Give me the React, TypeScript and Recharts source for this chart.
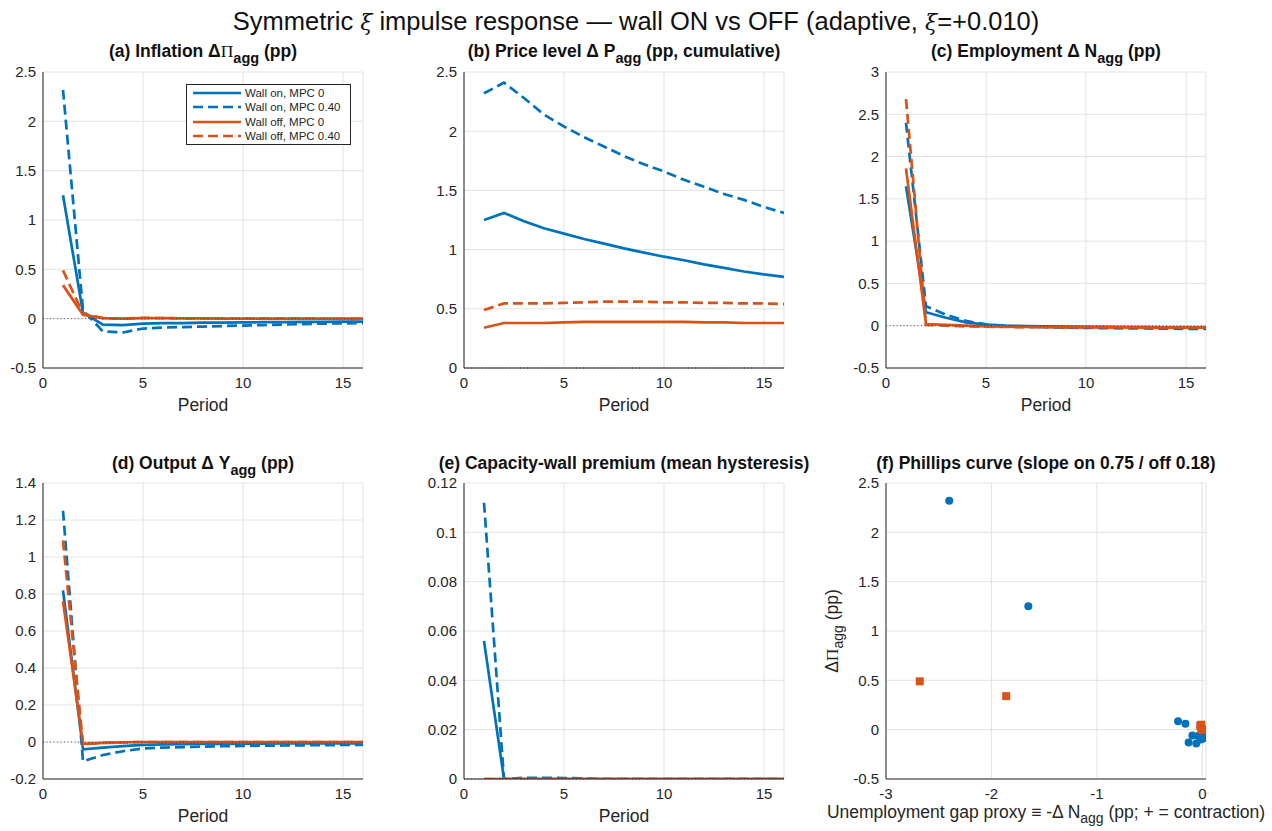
import React from 'react';
import {
    LineChart, Line, XAxis, YAxis, CartesianGrid, ReferenceLine, ScatterChart, Scatter
} from 'recharts';

const periods = [1, 2, 3, 4, 5, 6, 7, 8, 9, 10, 11, 12, 13, 14, 15, 16];

// (a) inflation, pp
const piOn0 = [1.25, 0.06, -0.06, -0.065, -0.05, -0.045, -0.045, -0.04, -0.04, -0.038, -0.036, -0.035, -0.033, -0.032, -0.03, -0.03];
const piOn40 = [2.32, 0.085, -0.13, -0.14, -0.1, -0.09, -0.085, -0.08, -0.075, -0.07, -0.065, -0.06, -0.055, -0.05, -0.048, -0.045];
const piOff0 = [0.34, 0.04, 0.005, 0.0, 0.005, 0.005, 0.003, 0.002, 0.001, 0, 0, 0, 0, 0, 0, 0];
const piOff40 = [0.49, 0.05, 0.005, 0.0, 0.008, 0.006, 0.004, 0.002, 0.001, 0, 0, 0, 0, -0.001, -0.001, -0.002];

// (b) price level, cumulative pp
const pOn0 = [1.25, 1.31, 1.24, 1.18, 1.135, 1.09, 1.05, 1.01, 0.975, 0.94, 0.91, 0.875, 0.845, 0.815, 0.79, 0.77];
const pOn40 = [2.32, 2.41, 2.28, 2.14, 2.04, 1.95, 1.87, 1.79, 1.72, 1.66, 1.59, 1.53, 1.47, 1.42, 1.36, 1.31];
const pOff0 = [0.34, 0.38, 0.38, 0.38, 0.385, 0.39, 0.39, 0.39, 0.39, 0.39, 0.39, 0.385, 0.385, 0.38, 0.38, 0.38];
const pOff40 = [0.49, 0.545, 0.545, 0.545, 0.55, 0.555, 0.56, 0.56, 0.56, 0.555, 0.555, 0.55, 0.55, 0.545, 0.545, 0.54];

// (c) employment, pp
const nOn0 = [1.65, 0.16, 0.094, 0.04, 0.012, 0.0, -0.005, -0.008, -0.01, -0.012, -0.014, -0.015, -0.016, -0.018, -0.019, -0.02];
const nOn40 = [2.4, 0.23, 0.13, 0.057, 0.015, -0.005, -0.012, -0.018, -0.022, -0.026, -0.029, -0.031, -0.033, -0.035, -0.037, -0.038];
const nOff0 = [1.86, 0.02, 0.01, 0.0, -0.008, -0.012, -0.014, -0.015, -0.016, -0.017, -0.018, -0.018, -0.019, -0.019, -0.02, -0.02];
const nOff40 = [2.68, 0.01, 0.0, -0.008, -0.012, -0.015, -0.017, -0.018, -0.019, -0.02, -0.02, -0.021, -0.021, -0.022, -0.022, -0.022];

// (d) output, pp
const yOn0 = [0.82, -0.04, -0.03, -0.022, -0.016, -0.013, -0.011, -0.01, -0.01, -0.009, -0.009, -0.008, -0.008, -0.008, -0.007, -0.007];
const yOn40 = [1.25, -0.105, -0.07, -0.05, -0.035, -0.03, -0.028, -0.025, -0.023, -0.021, -0.02, -0.019, -0.018, -0.017, -0.016, -0.015];
const yOff0 = [0.76, -0.01, -0.005, -0.002, 0, 0, 0, 0, 0, 0, 0, 0, 0, 0, 0, 0];
const yOff40 = [1.09, -0.012, -0.005, -0.002, 0, 0, 0, 0, 0, 0, 0, 0, 0, 0, 0, 0];

// (e) capacity-wall premium
const wOn0 = [0.056, 0, 0, 0, 0, 0, 0, 0, 0, 0, 0, 0, 0, 0, 0, 0];
const wOn40 = [0.112, 0, 0.0005, 0.0005, 0.0004, 0.0002, 0, 0, 0, 0, 0, 0, 0, 0, 0, 0];
const wOff0 = [0, 0, 0, 0, 0, 0, 0, 0, 0, 0, 0, 0, 0, 0, 0, 0];
const wOff40 = [0, 0, 0, 0, 0, 0, 0, 0, 0, 0, 0, 0, 0, 0, 0, 0];

const periodTicks = [0, 5, 10, 15];
const ticksA = [-0.5, 0, 0.5, 1, 1.5, 2, 2.5];
const ticksB = [0, 0.5, 1, 1.5, 2, 2.5];
const ticksC = [-0.5, 0, 0.5, 1, 1.5, 2, 2.5, 3];
const ticksD = [-0.2, 0, 0.2, 0.4, 0.6, 0.8, 1, 1.2, 1.4];
const ticksE = [0, 0.02, 0.04, 0.06, 0.08, 0.1, 0.12];
const gapTicks = [-3, -2, -1, 0];

const seriesNames = ['Wall on, MPC 0', 'Wall on, MPC 0.40', 'Wall off, MPC 0', 'Wall off, MPC 0.40'];

const BLUE = '#0072BD';
const ORANGE = '#D95319';
const INK = '#262626';
const GRID = '#e2e2e2';
const FONT = '"Liberation Sans", Arial, Helvetica, sans-serif';
const PW = 320;
const PH = 296;
const DASH = '10 5';
const LW = 2.7;

const rows = (a: number[], b: number[], c: number[], d: number[]) =>
    periods.map((p, i) => ({ period: p, on0: a[i], on40: b[i], off0: c[i], off40: d[i] }));

const onPts = [...periods.map((_, i) => ({ x: -nOn0[i], y: piOn0[i] })), ...periods.map((_, i) => ({ x: -nOn40[i], y: piOn40[i] }))];
const offPts = [...periods.map((_, i) => ({ x: -nOff0[i], y: piOff0[i] })), ...periods.map((_, i) => ({ x: -nOff40[i], y: piOff40[i] }))];

const Sub = ({ children, size = 14.5, drop = 6 }: any) => (
    <span style={{ fontSize: size, position: 'relative', top: drop }}>{children}</span>
);

const tickStyle = { fill: INK, fontSize: 15, fontFamily: FONT };

const Title = ({ left, top, children }: any) => (
    <div style={{
        position: 'absolute', left: left - 80, width: PW + 160, top, textAlign: 'center',
        fontFamily: FONT, fontWeight: 'bold', fontSize: 17.5, lineHeight: '18px', color: '#111', whiteSpace: 'nowrap'
    }}>{children}</div>
);

const AxisLabel = ({ left, top, children }: any) => (
    <div style={{
        position: 'absolute', left: left - 100, width: PW + 200, top, textAlign: 'center',
        fontFamily: FONT, fontSize: 17.5, lineHeight: '20px', color: INK, whiteSpace: 'nowrap'
    }}>{children}</div>
);

interface PanelProps {
    left: number;
    top: number;
    data: any[];
    domain: [number, number];
    ticks: number[];
}

const Panel: React.FC<PanelProps> = ({ left, top, data, domain, ticks }) => (
    <div style={{ position: 'absolute', left: left - 45, top: top - 10 }}>
        <LineChart width={PW + 55} height={PH + 40} data={data} margin={{ top: 10, right: 10, left: 5, bottom: 0 }}>
            <CartesianGrid stroke={GRID} />
            <XAxis dataKey="period" type="number" domain={[0, 16]} ticks={periodTicks} allowDataOverflow
                height={30} tickLine={false} tickSize={0} tickMargin={9} tick={tickStyle}
                axisLine={{ stroke: INK }} />
            <YAxis type="number" domain={domain} ticks={ticks} allowDataOverflow width={40}
                tickLine={false} tickSize={0} tickMargin={7} tick={tickStyle} axisLine={{ stroke: INK }} />
            <Line dataKey="on0" stroke={BLUE} strokeWidth={LW} dot={false} activeDot={false} isAnimationActive={false} />
            <Line dataKey="on40" stroke={BLUE} strokeWidth={LW} strokeDasharray={DASH} dot={false} activeDot={false} isAnimationActive={false} />
            <Line dataKey="off0" stroke={ORANGE} strokeWidth={LW} dot={false} activeDot={false} isAnimationActive={false} />
            <Line dataKey="off40" stroke={ORANGE} strokeWidth={LW} strokeDasharray={DASH} dot={false} activeDot={false} isAnimationActive={false} />
            <ReferenceLine y={0} stroke="#333" strokeWidth={0.8} strokeDasharray="1 2.5" />
        </LineChart>
    </div>
);

const Legend = () => (
    <div style={{
        position: 'absolute', left: 186, top: 84, width: 163, height: 59, border: `1px solid ${INK}`,
        background: '#fff', fontFamily: FONT, fontSize: 11.5, color: INK
    }}>
        {seriesNames.map((name, i) => (
            <div key={name} style={{ position: 'absolute', left: 5, top: 1 + i * 14.4, height: 14, display: 'flex', alignItems: 'center' }}>
                <svg width={50} height={14}>
                    <line x1={1} x2={49} y1={7} y2={7} stroke={i < 2 ? BLUE : ORANGE} strokeWidth={LW}
                        strokeDasharray={i % 2 === 1 ? DASH : undefined} />
                </svg>
                <span style={{ marginLeft: 3 }}>{name}</span>
            </div>
        ))}
    </div>
);

const Circle = (props: any) => <circle cx={props.cx} cy={props.cy} r={4} fill={BLUE} />;
const Square = (props: any) => <rect x={props.cx - 4} y={props.cy - 4} width={8} height={8} fill={ORANGE} />;

const Phillips = ({ left, top }: { left: number; top: number }) => (
    <div style={{ position: 'absolute', left: left - 45, top: top - 10 }}>
        <ScatterChart width={PW + 55} height={PH + 40} margin={{ top: 10, right: 10, left: 5, bottom: 0 }}>
            <CartesianGrid stroke={GRID} />
            <XAxis dataKey="x" type="number" domain={[-3, 0.035]} ticks={gapTicks} allowDataOverflow
                height={30} tickLine={false} tickSize={0} tickMargin={9} tick={tickStyle} axisLine={{ stroke: INK }} />
            <YAxis dataKey="y" type="number" domain={[-0.5, 2.5]} ticks={ticksA} allowDataOverflow width={40}
                tickLine={false} tickSize={0} tickMargin={7} tick={tickStyle} axisLine={{ stroke: INK }} />
            <Scatter data={onPts} shape={Circle} isAnimationActive={false} />
            <Scatter data={offPts} shape={Square} isAnimationActive={false} />
        </ScatterChart>
    </div>
);

const TOP1 = 72;
const TOP2 = 483;
const COL = [43, 464, 886];
const xiStyle = { fontFamily: '"DejaVu Serif", serif', fontStyle: 'italic', fontSize: 22 } as const;

export default function App() {
    return (
        <div style={{ position: 'absolute', left: 0, top: 0, width: 1272, height: 831, background: '#fff', overflow: 'hidden' }}>
            <div style={{
                position: 'absolute', left: 0, width: 1272, top: 6, textAlign: 'center', fontFamily: FONT,
                fontSize: 25.5, lineHeight: '30px', color: '#111', whiteSpace: 'nowrap'
            }}>
                Symmetric <span style={xiStyle}>ξ</span> impulse response — wall ON vs OFF (adaptive, <span style={xiStyle}>ξ</span>=+0.010)
            </div>

            <Title left={COL[0]} top={42}>(a) Inflation Δ<span style={{ fontFamily: '"Liberation Serif", serif', fontWeight: 'normal' }}>Π</span><Sub>agg</Sub> (pp)</Title>
            <Title left={COL[1]} top={42}>(b) Price level Δ P<Sub>agg</Sub> (pp, cumulative)</Title>
            <Title left={COL[2]} top={42}>(c) Employment Δ N<Sub>agg</Sub> (pp)</Title>
            <Title left={COL[0]} top={454}>(d) Output Δ Y<Sub>agg</Sub> (pp)</Title>
            <Title left={COL[1]} top={454}>(e) Capacity-wall premium (mean hysteresis)</Title>
            <Title left={COL[2]} top={454}>(f) Phillips curve (slope on 0.75 / off 0.18)</Title>

            <Panel left={COL[0]} top={TOP1} data={rows(piOn0, piOn40, piOff0, piOff40)} domain={[-0.5, 2.5]} ticks={ticksA} />
            <Panel left={COL[1]} top={TOP1} data={rows(pOn0, pOn40, pOff0, pOff40)} domain={[0, 2.5]} ticks={ticksB} />
            <Panel left={COL[2]} top={TOP1} data={rows(nOn0, nOn40, nOff0, nOff40)} domain={[-0.5, 3]} ticks={ticksC} />
            <Panel left={COL[0]} top={TOP2} data={rows(yOn0, yOn40, yOff0, yOff40)} domain={[-0.2, 1.4]} ticks={ticksD} />
            <Panel left={COL[1]} top={TOP2} data={rows(wOn0, wOn40, wOff0, wOff40)} domain={[0, 0.12]} ticks={ticksE} />
            <Phillips left={COL[2]} top={TOP2} />

            <Legend />

            <AxisLabel left={COL[0]} top={395}>Period</AxisLabel>
            <AxisLabel left={COL[1]} top={395}>Period</AxisLabel>
            <AxisLabel left={COL[2]} top={395}>Period</AxisLabel>
            <AxisLabel left={COL[0]} top={806}>Period</AxisLabel>
            <AxisLabel left={COL[1]} top={806}>Period</AxisLabel>
            <AxisLabel left={COL[2]} top={802}>Unemployment gap proxy ≡ -Δ N<Sub size={14} drop={5}>agg</Sub> (pp; + = contraction)</AxisLabel>

            <div style={{
                position: 'absolute', left: 832, top: 631, transform: 'translate(-50%, -50%) rotate(-90deg)',
                fontFamily: FONT, fontSize: 17.5, color: INK, whiteSpace: 'nowrap'
            }}>
                Δ<span style={{ fontFamily: '"Liberation Serif", serif' }}>Π</span><Sub size={14} drop={5}>agg</Sub> (pp)
            </div>
        </div>
    );
}
